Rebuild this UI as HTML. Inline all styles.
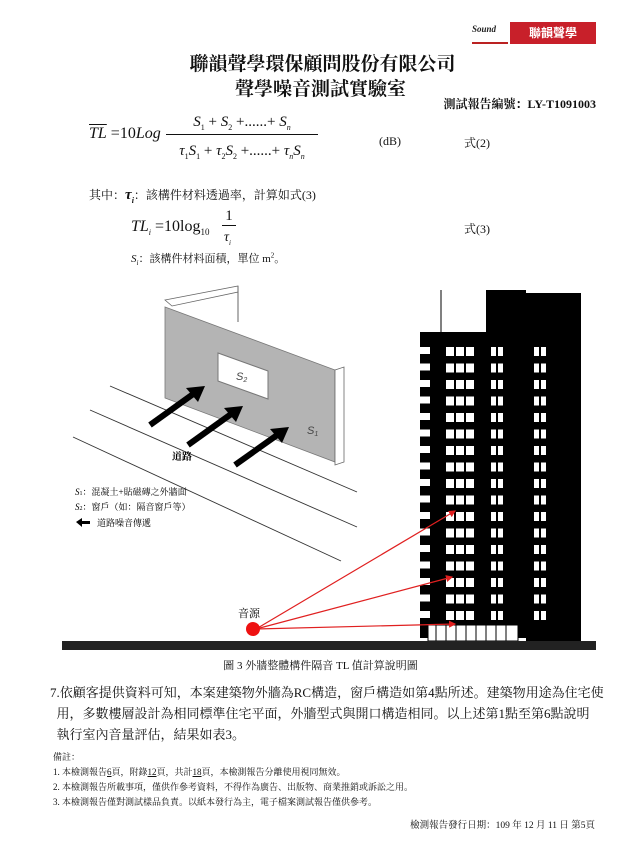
<!DOCTYPE html>
<html><head><meta charset="utf-8"><style>
body{margin:0;width:641px;height:867px;background:#fff;position:relative;overflow:hidden;font-family:"Liberation Serif","Noto Serif CJK SC","Noto Sans CJK TC",serif;color:#111}
.a{position:absolute;white-space:nowrap}
.m{font-family:"Liberation Serif",serif;font-style:italic}
</style></head><body>
<div class="a" style="left:472px;top:24px;width:36px;height:18px;font:bold italic 9px 'Liberation Serif';color:#222;border-bottom:2px solid #b22">Sound</div>
<div class="a" style="left:510px;top:22px;width:86px;height:22px;background:#c8202a;color:#fff;font:bold 12px 'Noto Sans CJK TC',sans-serif;line-height:22px;text-align:center">聯韻聲學</div>
<div class="a" style="left:0;width:641px;top:49px;text-align:center;font:bold 19px 'Noto Serif CJK SC','Noto Sans CJK TC',serif;padding-left:2px">聯韻聲學環保顧問股份有限公司</div>
<div class="a" style="left:0;width:641px;top:74px;text-align:center;font:bold 19px 'Noto Serif CJK SC','Noto Sans CJK TC',serif">聲學噪音測試實驗室</div>
<div class="a" style="right:45px;top:95px;font:bold 12px 'Liberation Serif','Noto Serif CJK SC',serif">測試報告編號：LY-T1091003</div>

<div class="a" style="left:89px;top:125px;font-size:16px"><span class="m" style="text-decoration:overline">TL</span> =10<span class="m">Log</span></div>
<div class="a" style="left:166px;top:114px;width:152px;text-align:center;font-size:15px;border-bottom:1px solid #111;padding-bottom:2px"><span class="m">S</span><sub style="font-size:8px">1</sub> + <span class="m">S</span><sub style="font-size:8px">2</sub> +......+ <span class="m">S<sub style="font-size:8px">n</sub></span></div>
<div class="a" style="left:166px;top:143px;width:152px;text-align:center;font-size:15px"><span class="m">τ</span><sub style="font-size:8px">1</sub><span class="m">S</span><sub style="font-size:8px">1</sub> + <span class="m">τ</span><sub style="font-size:8px">2</sub><span class="m">S</span><sub style="font-size:8px">2</sub> +......+ <span class="m">τ<sub style="font-size:8px">n</sub>S<sub style="font-size:8px">n</sub></span></div>
<div class="a" style="left:379px;top:134px;font-size:12px">(dB)</div>
<div class="a" style="left:464px;top:134px;font-size:12px">式(2)</div>
<div class="a" style="left:89px;top:186px;font-size:12px">其中：<b class="m" style="font-size:15px">τ<sub style="font-size:8px">i</sub></b>：該構件材料透過率，計算如式(3)</div>
<div class="a" style="left:131px;top:218px;font-size:16px"><span class="m">TL<sub style="font-size:8px">i</sub></span> =10log<sub style="font-size:9px">10</sub></div>
<div class="a" style="left:222px;top:208px;width:14px;text-align:center;font-size:15px;border-bottom:1px solid #111">1</div>
<div class="a m" style="left:224px;top:230px;font-size:14px">τ<sub style="font-size:7px">i</sub></div>
<div class="a" style="left:464px;top:220px;font-size:12px">式(3)</div>
<div class="a" style="left:131px;top:250px;font-size:11px"><span class="m">S<sub style="font-size:7px">i</sub></span>：該構件材料面積，單位 m<sup style="font-size:7px">2</sup>。</div>

<svg class="a" style="left:0;top:0" width="641" height="867">
<defs>
<marker id="ah" markerWidth="6" markerHeight="6" refX="5" refY="3" orient="auto"><path d="M0,0L6,3L0,6Z" fill="#e02020"/></marker>
<pattern id="fl" x="418" y="345" width="160" height="16.5" patternUnits="userSpaceOnUse">
<rect x="2" y="2" width="10" height="7" fill="#fff"/>
<rect x="28" y="2" width="8" height="9" fill="#fff"/><rect x="38" y="2" width="8" height="9" fill="#fff"/><rect x="48" y="2" width="8" height="9" fill="#fff"/>
<rect x="73" y="2" width="5" height="9" fill="#fff"/><rect x="80" y="2" width="5" height="9" fill="#fff"/>
<rect x="116" y="2" width="5" height="9" fill="#fff"/><rect x="123" y="2" width="5" height="9" fill="#fff"/>
</pattern></defs>
<polygon points="165,300 238,286 238,292 172,306" fill="#fff" stroke="#666" stroke-width="0.8"/>
<line x1="238" y1="286" x2="238" y2="322" stroke="#666"/>
<polygon points="165,307 335,370 335,462 165,398" fill="#b4b4b4" stroke="#777" stroke-width="0.8"/>
<polygon points="335,370 344,367 344,462 335,465" fill="#fff" stroke="#666" stroke-width="0.8"/>
<polygon points="218,353 268,371 268,399 218,381" fill="#fff" stroke="#777"/>
<text x="236" y="380" font-family="Liberation Sans" font-style="italic" font-size="11" fill="#444">S<tspan font-size="7" dy="2">2</tspan></text>
<text x="307" y="434" font-family="Liberation Sans" font-style="italic" font-size="11" fill="#444">S<tspan font-size="7" dy="2">1</tspan></text>
<g stroke="#333" stroke-width="0.9">
<line x1="110" y1="386" x2="357" y2="492"/>
<line x1="90" y1="410" x2="357" y2="527"/>
<line x1="73" y1="437" x2="341" y2="561"/>
</g>
<g stroke="#000" stroke-width="6"><line x1="150" y1="425" x2="196" y2="392"/><line x1="188" y1="445" x2="234" y2="412"/><line x1="235" y1="465" x2="280" y2="433"/></g>
<g fill="#000"><polygon points="205,386 186,388 198,402"/><polygon points="243,406 224,408 236,422"/><polygon points="289,427 270,429 282,443"/></g>
<text x="172" y="460" font-size="10" font-weight="bold" font-family="Noto Serif CJK SC,serif">道路</text>
<text x="75" y="495" font-size="9" font-family="Liberation Serif,Noto Serif CJK SC,serif"><tspan font-style="italic">S</tspan><tspan font-size="6">1</tspan>：混凝土+貼磁磚之外牆面</text>
<text x="75" y="510" font-size="9" font-family="Liberation Serif,Noto Serif CJK SC,serif"><tspan font-style="italic">S</tspan><tspan font-size="6">2</tspan>：窗戶（如：隔音窗戶等）</text>
<polygon points="76,522 82,518 82,521 90,521 90,524 82,524 82,527" fill="#000"/>
<text x="97" y="526" font-size="9" font-family="Noto Serif CJK SC,serif">道路噪音傳遞</text>
<line x1="441" y1="290" x2="441" y2="335" stroke="#000"/>
<rect x="486" y="290" width="40" height="48" fill="#000"/>
<rect x="526" y="293" width="55" height="350" fill="#000"/>
<rect x="420" y="332" width="160" height="306" fill="#000"/>
<rect x="418" y="345" width="160" height="280" fill="url(#fl)"/>
<rect x="428" y="625" width="90" height="16" fill="#fff" stroke="#000"/>
<g stroke="#000" stroke-width="1"><line x1="436" y1="625" x2="436" y2="641"/><line x1="446" y1="625" x2="446" y2="641"/><line x1="456" y1="625" x2="456" y2="641"/><line x1="466" y1="625" x2="466" y2="641"/><line x1="476" y1="625" x2="476" y2="641"/><line x1="486" y1="625" x2="486" y2="641"/><line x1="496" y1="625" x2="496" y2="641"/><line x1="506" y1="625" x2="506" y2="641"/></g>
<rect x="62" y="641" width="534" height="9" fill="#222"/>
<g stroke="#e02020" stroke-width="1.2" marker-end="url(#ah)"><line x1="256" y1="629" x2="455" y2="511"/><line x1="256" y1="629" x2="452" y2="577"/><line x1="256" y1="629" x2="455" y2="624"/></g>
<circle cx="253" cy="629" r="7" fill="#ee1111"/>
<text x="238" y="617" font-size="11" font-family="Noto Serif CJK SC,serif">音源</text>
</svg>
<div class="a" style="left:0;width:641px;top:657px;text-align:center;font-size:11px">圖 3 外牆整體構件隔音 TL 值計算說明圖</div>
<div class="a" style="left:50px;top:682px;font-size:13px;line-height:21px;white-space:normal;width:556px">7.依顧客提供資料可知，本案建築物外牆為RC構造，窗戶構造如第4點所述。建築物用途為住宅使<br>&nbsp;&nbsp;用，多數樓層設計為相同標準住宅平面，外牆型式與開口構造相同。以上述第1點至第6點說明<br>&nbsp;&nbsp;執行室內音量評估，結果如表3。</div>
<div class="a" style="left:53px;top:750px;font-size:9px;line-height:15px">備註：<br>1. 本檢測報告<u>6</u>頁，附錄<u>12</u>頁，共計<u>18</u>頁，本檢測報告分離使用視同無效。<br>2. 本檢測報告所載事項，僅供作參考資料，不得作為廣告、出版物、商業推銷或訴訟之用。<br>3. 本檢測報告僅對測試樣品負責。以紙本發行為主，電子檔案測試報告僅供參考。</div>
<div class="a" style="right:46px;top:817px;font-size:9.5px">檢測報告發行日期：109 年 12 月 11 日 第5頁</div>
</body></html>
